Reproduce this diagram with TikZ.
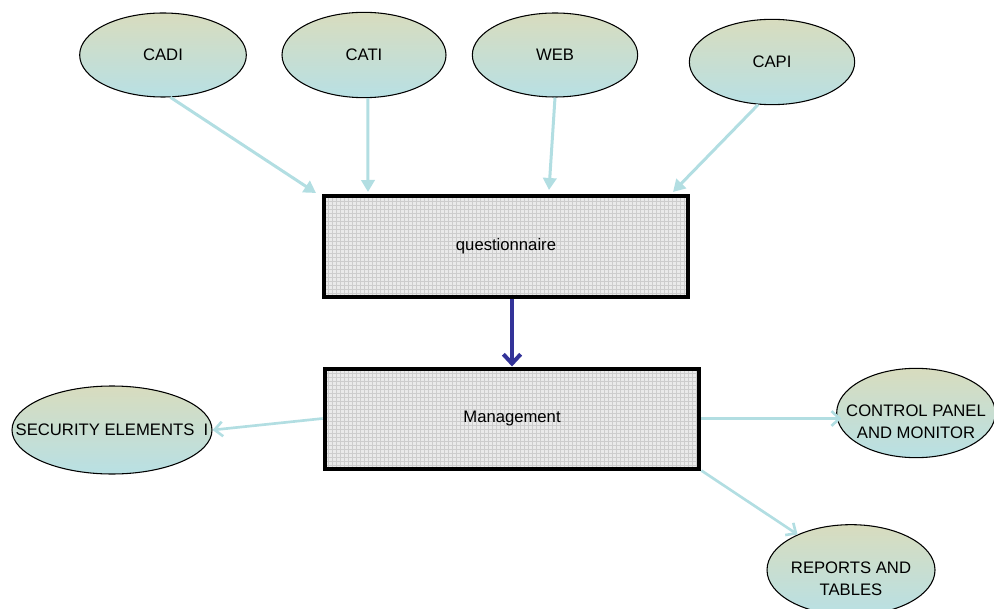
\documentclass[tikz,border=0pt]{standalone}
\usepackage{fontspec}
\setmainfont{Liberation Sans}
\usetikzlibrary{shapes.geometric,arrows.meta,patterns}
\definecolor{ovaltop}{RGB}{216,220,190}
\definecolor{ovalbot}{RGB}{184,224,228}
\definecolor{linkblue}{RGB}{178,222,226}
\definecolor{darkblue}{RGB}{51,51,153}
\definecolor{boxgray}{RGB}{234,234,234}
\definecolor{gridgray}{RGB}{205,205,205}
\newcommand{\lowpair}[2]{\raisebox{0pt}[\dimexpr\height+15pt\relax][\depth]{\begin{tabular}{@{}c@{}}#1\\#2\end{tabular}}}
\begin{document}
\begin{tikzpicture}[x=0.75pt, y=-0.75pt, font=\fontsize{12.5}{16.5}\selectfont,
    oval/.style = {draw, ellipse, line width=0.8pt, inner xsep=-25pt, inner ysep=-8pt, top color=ovaltop, bottom color=ovalbot},
    box/.style = {draw, line width=3pt, preaction={fill=boxgray}, pattern=grid, pattern color=gridgray, minimum height=75pt},
    link/.style = {draw=linkblue, line width=2.25pt, -{Triangle[length=9pt,width=10pt]}},
    barb/.style = {draw=linkblue, line width=2pt, -{Straight Barb[length=6pt,width=11pt]}}]
    \useasboundingbox (0,0) rectangle (994,609);
    \node[oval, minimum width=125pt, minimum height=63pt] (cadi) at (163,55) {CADI};
    \node[oval, minimum width=123pt, minimum height=64pt] (cati) at (364,55) {CATI};
    \node[oval, minimum width=124pt, minimum height=63pt] (web) at (555,55) {WEB};
    \node[oval, minimum width=124pt, minimum height=64pt] (capi) at (772,62) {CAPI};
    \node[box, minimum width=273pt] (q) at (506,246.5) {questionnaire};
    \node[box, minimum width=281pt] (m) at (512,418.5) {Management};
    \node[oval, minimum width=150pt, minimum height=66pt] (sec) at (112,430) {SECURITY ELEMENTS\ \ I};
    \node[oval, minimum width=119pt, minimum height=67pt] (ctl) at (916,413) {\lowpair{CONTROL PANEL}{AND MONITOR}};
    \node[oval, minimum width=126pt, minimum height=68pt] (rep) at (851,570) {\lowpair{REPORTS AND}{TABLES}};
    \coordinate (t1) at (316,193);
    \coordinate (t2) at (368,192);
    \coordinate (t3) at (549,190);
    \coordinate (t4) at (673,192);
    \draw[link] (cadi.280) -- (t1);
    \draw[link] (cati.275) -- (t2);
    \draw[link] (web.south) -- (t3);
    \draw[link] (capi.252) -- (t4);
    \draw[draw=darkblue, line width=3pt, -{Straight Barb[length=7pt,width=13pt]}] (m.north |- q.south) -- (m.north);
    \draw[barb] (m.west) -- (sec.east);
    \draw[barb] (m.east) -- ([xshift=4pt]ctl.west |- m.east);
    \draw[barb] (m.south east) -- (rep);
\end{tikzpicture}
\end{document}
